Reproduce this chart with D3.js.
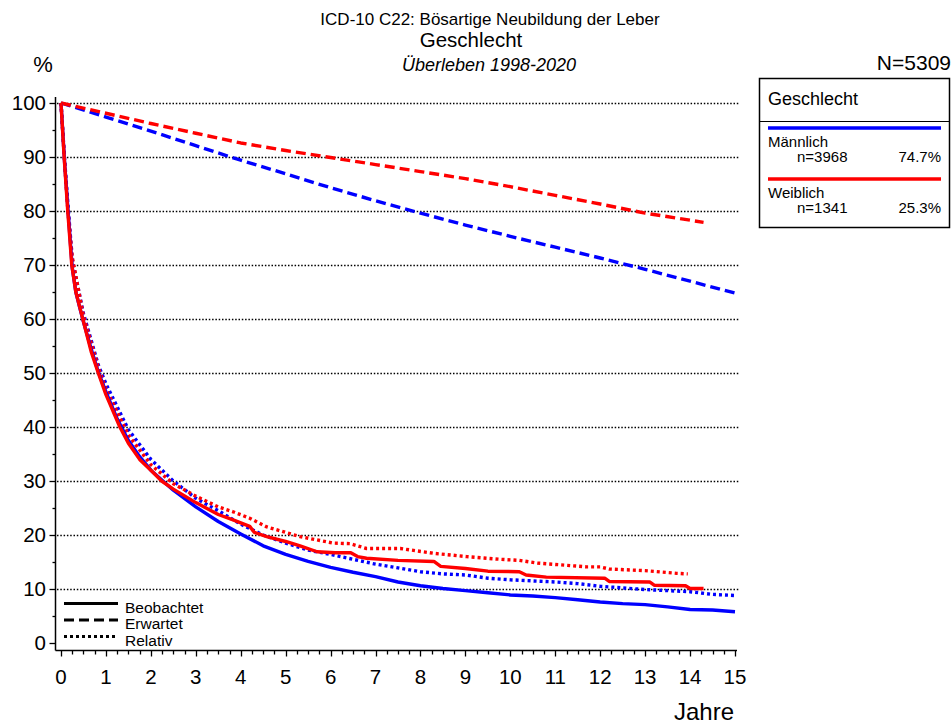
<!DOCTYPE html>
<html><head><meta charset="utf-8">
<script src="https://cdn.jsdelivr.net/npm/d3@7"></script>
<style>
body{margin:0;background:#fff}
svg{display:block}
text{font-family:"Liberation Sans",Arial,sans-serif;fill:#000}
</style>
</head><body>
<svg id="chart" width="951" height="726"></svg>
<script>
// ---------- data ----------
const yTicks = [0,10,20,30,40,50,60,70,80,90,100];
const yMinorTicks = [5,15,25,35,45,55,65,75,85,95];
const xTicks = [0,1,2,3,4,5,6,7,8,9,10,11,12,13,14,15];
const titleLines = ["ICD-10 C22: Bösartige Neubildung der Leber","Geschlecht","Überleben 1998-2020"];
const groups = ["Männlich","Weiblich"];
const groupN = ["n=3968","n=1341"];
const groupPct = ["74.7%","25.3%"];
const groupColors = ["#0000ff","#ff0000"];
const lineTypes = ["Beobachtet","Erwartet","Relativ"];

// Männlich
const maleObserved = [[0,100],[0.08,89],[0.17,78.5],[0.25,69.5],[0.33,65],[0.42,62],[0.5,59.5],[0.67,54.5],[0.83,50.2],[1,46.5],[1.25,41.5],[1.5,37.5],[1.75,34.5],[2,32],[2.5,28.3],[3,25.2],[3.5,22.5],[4,20.2],[4.5,18.0],[5,16.4],[5.5,15.1],[6,14.0],[6.5,13.1],[7,12.3],[7.5,11.3],[8,10.6],[8.5,10.1],[9,9.7],[9.5,9.3],[10,8.9],[10.5,8.7],[11,8.4],[11.5,8.0],[12,7.6],[12.5,7.3],[13,7.1],[13.5,6.7],[14,6.2],[14.5,6.1],[15,5.8]];
const maleExpected = [[0,100],[1,97.4],[2,94.8],[3,92.1],[4,89.4],[5,86.9],[6,84.3],[7,81.9],[8,79.6],[9,77.4],[10,75.3],[11,73.3],[12,71.3],[13,69.2],[14,67.0],[15,64.8]];
const maleRelative = [[0,100],[0.08,89.5],[0.17,79.5],[0.25,71],[0.5,61],[0.83,51.5],[1,48],[1.5,39.5],[2,34],[2.5,30],[3,26.8],[3.5,24.5],[4,22],[4.5,20],[5,18.5],[5.5,17.2],[6,16.4],[6.5,15.5],[7,14.6],[7.5,13.9],[8,13.2],[8.5,12.8],[9,12.6],[9.5,12.0],[10,11.7],[10.5,11.5],[11,11.3],[11.5,11.0],[12,10.5],[12.5,10.2],[13,9.9],[13.5,9.7],[14,9.5],[14.5,9.0],[15,8.8]];
// Weiblich
const femaleObserved = [[0,100],[0.07,90],[0.15,80],[0.24,70],[0.33,65],[0.5,59.5],[0.67,54],[0.83,50],[1,46],[1.31,40],[1.5,37],[1.75,34],[2,32],[2.24,30],[2.5,28.5],[3,26],[3.5,23.8],[3.83,22.8],[4.2,21.6],[4.3,20.5],[4.58,19.7],[5,18.8],[5.32,18],[5.7,16.9],[6.1,16.7],[6.45,16.7],[6.6,16.0],[6.8,15.7],[7.5,15.3],[8.3,15.1],[8.45,14.2],[9,13.8],[9.5,13.3],[10.2,13.2],[10.35,12.6],[10.8,12.2],[12.1,12.0],[12.2,11.4],[13.1,11.3],[13.2,10.7],[13.9,10.6],[14.0,10.1],[14.3,10.1]];
const femaleExpected = [[0,100],[1,98.1],[2,96.2],[3,94.4],[4,92.6],[5,91.2],[6,89.9],[7,88.6],[8,87.3],[9,86.0],[10,84.5],[11,82.9],[12,81.3],[13,79.6],[14,78.3],[14.3,77.9]];
const femaleRelative = [[0,100],[0.07,90.5],[0.15,80.5],[0.25,71.5],[0.5,60.5],[0.83,51],[1,47],[1.5,38.5],[2,33],[2.5,29.5],[3,27.2],[3.5,25.2],[3.83,24.3],[4.2,23.1],[4.58,21.5],[5.32,19.7],[6.06,18.5],[6.43,18.4],[6.8,17.5],[7.55,17.5],[8.3,16.6],[9.03,16.0],[9.77,15.5],[10.2,15.3],[10.6,14.8],[11.7,14.1],[12.0,14.1],[12.2,13.7],[13.0,13.4],[13.7,12.9],[13.95,12.8]];

// ---------- layout ----------
const svg = d3.select("#chart");
const x = d3.scaleLinear().domain([0,15]).range([61,735]);
const y = d3.scaleLinear().domain([0,100]).range([643,103]);
const axisX = 55.5, axisY = 650.5;

// titles
const tl = svg.append("g").attr("text-anchor","middle");
tl.append("text").attr("x",490).attr("y",25).style("font-size","17px").text(titleLines[0]);
tl.append("text").attr("x",471).attr("y",47).style("font-size","20.5px").text(titleLines[1]);
tl.append("text").attr("x",489).attr("y",71).style("font-size","18px").style("font-style","italic").text(titleLines[2]);
svg.append("text").attr("x",43).attr("y",72).attr("text-anchor","middle").style("font-size","22px").text("%");
svg.append("text").attr("x",951).attr("y",70).attr("text-anchor","end").style("font-size","21px").text("N=5309");

// grid
svg.append("g").selectAll("line").data(yTicks.filter(d=>d>0)).join("line")
  .attr("x1",57).attr("x2",740).attr("y1",d=>Math.round(y(d))+0.5).attr("y2",d=>Math.round(y(d))+0.5)
  .attr("stroke","#000").attr("stroke-width",1.3).attr("stroke-dasharray","1.5,1.8");

// y axis
const ya = svg.append("g");
ya.append("line").attr("x1",axisX).attr("x2",axisX).attr("y1",97).attr("y2",axisY).attr("stroke","#000").attr("stroke-width",1.5);
ya.selectAll("line.maj").data(yTicks).join("line").attr("class","maj")
  .attr("x1",axisX-6).attr("x2",axisX).attr("y1",d=>Math.round(y(d))+0.5).attr("y2",d=>Math.round(y(d))+0.5).attr("stroke","#000").attr("stroke-width",1.3);
ya.selectAll("line.min").data(yMinorTicks).join("line").attr("class","min")
  .attr("x1",axisX-3).attr("x2",axisX).attr("y1",d=>Math.round(y(d))+0.5).attr("y2",d=>Math.round(y(d))+0.5).attr("stroke","#000").attr("stroke-width",1.3);
ya.selectAll("text").data(yTicks).join("text")
  .attr("x",46).attr("y",d=>y(d)).attr("dy","0.36em").attr("text-anchor","end").style("font-size","20.5px").text(d=>d);

// x axis
const xa = svg.append("g");
xa.append("line").attr("x1",axisX).attr("x2",737).attr("y1",axisY).attr("y2",axisY).attr("stroke","#000").attr("stroke-width",1.5);
const quarter = d3.range(0,15.001,0.25);
xa.selectAll("line.t").data(quarter).join("line").attr("class","t")
  .attr("x1",d=>Math.round(x(d))+0.5).attr("x2",d=>Math.round(x(d))+0.5)
  .attr("y1",axisY).attr("y2",d=>axisY+(Number.isInteger(d)?6:4)).attr("stroke","#000").attr("stroke-width",1.3);
xa.selectAll("text").data(xTicks).join("text")
  .attr("x",d=>x(d)).attr("y",684).attr("text-anchor","middle").style("font-size","20.5px").text(d=>d);
svg.append("text").attr("x",704).attr("y",720).attr("text-anchor","middle").style("font-size","24px").text("Jahre");

// curves
const line = d3.line().x(d=>x(d[0])).y(d=>y(d[1]));
const series = [
  {d:maleExpected,c:0,dash:"10,5"},
  {d:femaleExpected,c:1,dash:"10,5"},
  {d:maleRelative,c:0,dash:"3,3"},
  {d:femaleRelative,c:1,dash:"3,3"},
  {d:maleObserved,c:0,dash:null},
  {d:femaleObserved,c:1,dash:null}
];
svg.append("g").selectAll("path").data(series).join("path")
  .attr("d",s=>line(s.d)).attr("fill","none")
  .attr("stroke",s=>groupColors[s.c]).attr("stroke-width",3.4)
  .attr("stroke-dasharray",s=>s.dash).attr("stroke-linejoin","round");

// bottom-left line-type legend
const lt = svg.append("g");
const ltDash = [null,"10,5","3,3"];
lineTypes.forEach((name,i)=>{
  const yy = 603.5 + i*16.5;
  lt.append("line").attr("x1",64).attr("x2",118).attr("y1",yy).attr("y2",yy)
    .attr("stroke","#000").attr("stroke-width",3.2).attr("stroke-dasharray",ltDash[i]);
  lt.append("text").attr("x",125).attr("y",yy+9).style("font-size","15.5px").text(name);
});

// group legend box
const lg = svg.append("g");
lg.append("rect").attr("x",759.5).attr("y",78.5).attr("width",190).attr("height",149).attr("fill","#fff").attr("stroke","#000").attr("stroke-width",1.5);
lg.append("line").attr("x1",759.5).attr("x2",949.5).attr("y1",121.5).attr("y2",121.5).attr("stroke","#000").attr("stroke-width",1.2);
lg.append("text").attr("x",768).attr("y",104.5).style("font-size","18px").text("Geschlecht");
groups.forEach((g,i)=>{
  const y0 = 128 + i*51;
  lg.append("line").attr("x1",768).attr("x2",941).attr("y1",y0).attr("y2",y0).attr("stroke",groupColors[i]).attr("stroke-width",3.5);
  lg.append("text").attr("x",768).attr("y",y0+19).style("font-size","15px").text(g);
  lg.append("text").attr("x",797).attr("y",y0+34).style("font-size","15px").text(groupN[i]);
  lg.append("text").attr("x",941).attr("y",y0+34).attr("text-anchor","end").style("font-size","15px").text(groupPct[i]);
});
</script>
</body></html>
